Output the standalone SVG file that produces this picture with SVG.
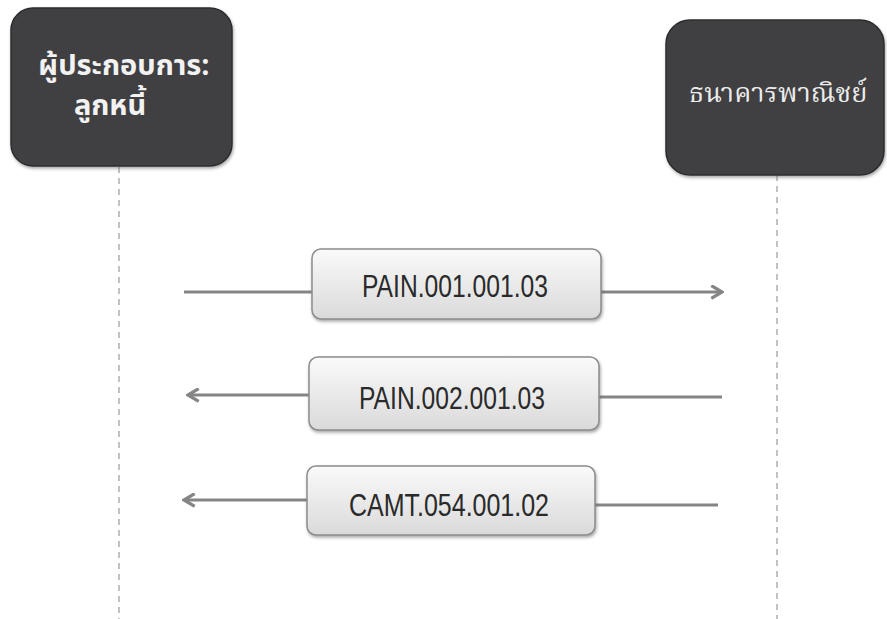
<svg xmlns="http://www.w3.org/2000/svg" width="887" height="619" viewBox="0 0 887 619">
<defs>
<style>
.actor{fill:#414143;stroke:#2c2c2e;stroke-width:1.5}
.atext{fill:#f2f2f2;font-family:"Noto Sans Thai","Noto Sans","DejaVu Sans",sans-serif;font-weight:bold;font-size:29px;text-anchor:middle}
.btext{fill:#ececec;font-family:"Noto Serif Thai","Noto Sans Thai","DejaVu Serif",serif;font-size:27px;text-anchor:middle}
.life{stroke:#9a9a9a;stroke-width:1.2;stroke-dasharray:6 5;fill:none}
.msg{stroke:#858585;stroke-width:3.2;fill:none}
.mbox{fill:url(#mg);stroke:#8c8c8c;stroke-width:1.5}
.mtext{fill:#2a2a2a;font-family:"Liberation Sans","Open Sans",sans-serif;font-size:32px;text-anchor:middle}
</style>
<linearGradient id="mg" x1="0" y1="0" x2="0" y2="1">
<stop offset="0" stop-color="#fafafa"/>
<stop offset="1" stop-color="#dadada"/>
</linearGradient>
<filter id="sh" x="-10%" y="-10%" width="120%" height="130%">
<feDropShadow dx="1" dy="2" stdDeviation="1.5" flood-color="#555" flood-opacity="0.5"/>
</filter>
<marker id="arr" viewBox="0 0 14 14" refX="12" refY="7" markerWidth="15" markerHeight="15" markerUnits="userSpaceOnUse" orient="auto-start-reverse">
<path d="M2,1 L12,7 L2,13" fill="none" stroke="#858585" stroke-width="3"/>
</marker>
</defs>
<rect width="887" height="619" fill="#ffffff"/>
<g id="lifelines">
<line class="life" x1="119" y1="167" x2="119" y2="619"/>
<line class="life" x1="777" y1="175" x2="777" y2="619"/>
</g>
<g id="debtor">
<rect class="actor" x="11" y="8" width="221" height="158" rx="22" filter="url(#sh)"/>
<text class="atext" x="124" y="75">ผู้ประกอบการ:</text>
<text class="atext" x="110" y="115">ลูกหนี้</text>
</g>
<g id="bank">
<rect class="actor" x="666" y="20" width="218" height="155" rx="24" filter="url(#sh)"/>
<text class="btext" x="778" y="102">ธนาคารพาณิชย์</text>
</g>
<g id="connectors">
<line class="msg" x1="184" y1="292" x2="312" y2="292"/>
<line class="msg" x1="601" y1="292" x2="722" y2="292" marker-end="url(#arr)"/>
<line class="msg" x1="309" y1="395" x2="188" y2="395" marker-end="url(#arr)"/>
<line class="msg" x1="722" y1="397" x2="599" y2="397"/>
<line class="msg" x1="307" y1="500" x2="184" y2="500" marker-end="url(#arr)"/>
<line class="msg" x1="718" y1="505" x2="595" y2="505"/>
</g>
<g id="msg1">
<rect class="mbox" x="312" y="249" width="289" height="70" rx="9" filter="url(#sh)"/>
<text class="mtext" x="455" y="297" textLength="186" lengthAdjust="spacingAndGlyphs">PAIN.001.001.03</text>
</g>
<g id="msg2">
<rect class="mbox" x="309" y="357" width="290" height="73" rx="9" filter="url(#sh)"/>
<text class="mtext" x="452" y="409" textLength="186" lengthAdjust="spacingAndGlyphs">PAIN.002.001.03</text>
</g>
<g id="msg3">
<rect class="mbox" x="307" y="466" width="288" height="69" rx="9" filter="url(#sh)"/>
<text class="mtext" x="449" y="516" textLength="200" lengthAdjust="spacingAndGlyphs">CAMT.054.001.02</text>
</g>
</svg>
